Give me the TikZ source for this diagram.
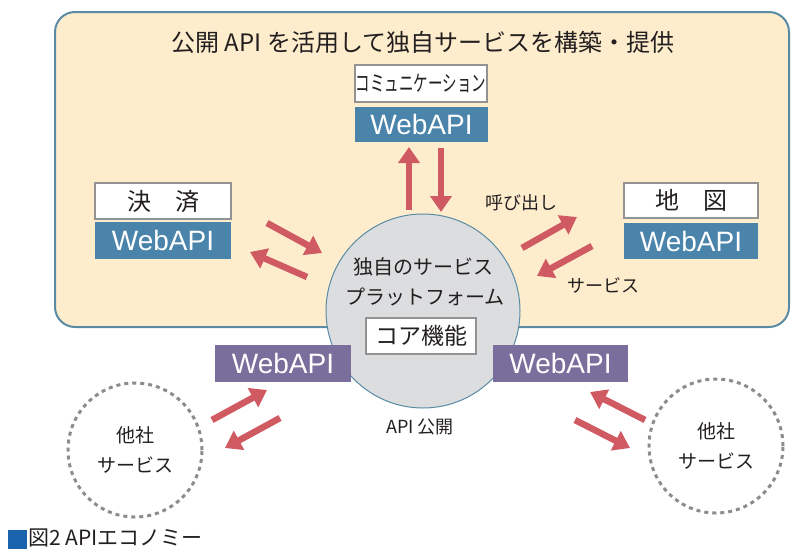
\documentclass[tikz,border=0pt]{standalone}
\usepackage{fontspec}
\setmainfont{Noto Sans CJK JP}
\newfontfamily\latfont{Liberation Sans}
\usepackage{graphicx}
\usetikzlibrary{arrows.meta}
\definecolor{beige}{HTML}{FEEDCD}
\definecolor{framec}{HTML}{5A8BA5}
\definecolor{apiblue}{HTML}{4A84AA}
\definecolor{apipurple}{HTML}{7A6E9C}
\definecolor{arrowred}{HTML}{CF5A62}
\definecolor{coregray}{HTML}{DCDDDF}
\definecolor{dotgray}{HTML}{8C8C8C}
\definecolor{textc}{HTML}{231F20}
\definecolor{capblue}{HTML}{1A64AE}
\tikzset{
  fat/.style={draw=arrowred, line width=6.5pt, -{Triangle[width=21pt,length=16pt]}},
  labelbox/.style={draw=gray!85, line width=1.3pt, fill=white, minimum width=134pt, minimum height=36pt, inner sep=0pt, text=textc, font=\fontsize{24}{26}\selectfont},
  apibox/.style={fill=apiblue, text=white, minimum width=134pt, minimum height=36pt, inner sep=0pt, font=\latfont\fontsize{28}{29}\selectfont},
  pbox/.style={apibox, fill=apipurple},
  othersvc/.style={circle, draw=dotgray, line width=3pt, dash pattern=on 4pt off 4pt, minimum size=134pt, inner sep=0pt, align=center, text=textc, font=\fontsize{19}{30}\selectfont},
  plain/.style={text=textc, inner sep=0pt},
}
\begin{document}
\begin{tikzpicture}[x=1pt,y=-1pt]
\useasboundingbox (0,0) rectangle (791,549);
% region
\draw[framec, fill=beige, line width=2pt, rounded corners=20pt] (55,12) rectangle (789,327);
\node[plain, font=\fontsize{24}{26}\selectfont] (title) at (423,42) {公開 API を活用して独自サービスを構築・提供};
% communication
\node[labelbox, minimum width=132pt, minimum height=37pt, font=\fontsize{22}{24}\selectfont] (comm) at (421,83.5) {\scalebox{0.66}[1]{コミュニケーション}};
\node[apibox, minimum width=133pt, minimum height=35pt] (commapi) at (421.5,124.5) {WebAPI};
% kessai
\node[labelbox, minimum width=136pt] (kessai) at (163,201) {決\hspace{1em}済};
\node[apibox, minimum width=136pt, minimum height=37pt] (kessaiapi) at (163,240.5) {WebAPI};
% map
\node[labelbox, minimum height=35pt] (map) at (691,200.5) {地\hspace{1em}図};
\node[apibox] (mapapi) at (691,241) {WebAPI};
% labels
\node[plain, font=\fontsize{18}{20}\selectfont] (call) at (521,203) {呼び出し};
\node[plain, font=\fontsize{18}{20}\selectfont] (svc) at (603,285) {サービス};
% arrows
\coordinate (a1s) at (409,210); \coordinate (a1e) at (409,147);
\coordinate (a2s) at (441,148); \coordinate (a2e) at (441,212);
\coordinate (a3s) at (267,223); \coordinate (a3e) at (322,253);
\coordinate (a4s) at (307,277); \coordinate (a4e) at (250,252);
\coordinate (a5s) at (522,248); \coordinate (a5e) at (577,217);
\coordinate (a6s) at (592,246); \coordinate (a6e) at (537,276);
\coordinate (a7s) at (212,420); \coordinate (a7e) at (267,390);
\coordinate (a8s) at (280,418); \coordinate (a8e) at (225,448);
\coordinate (a9s) at (645,420); \coordinate (a9e) at (590,392);
\coordinate (a10s) at (575,420); \coordinate (a10e) at (630,448);
\foreach \i in {1,...,10} {\draw[fat] (a\i s) -- (a\i e);}
% core circle
\node[circle, draw=framec, line width=1pt, fill=coregray, minimum size=194pt, inner sep=0pt] (core) at (423,311) {};
\node[plain, font=\fontsize{20}{22}\selectfont] (coreA) at (423,267) {独自のサービス};
\node[plain, font=\fontsize{20}{22}\selectfont] (coreB) at (425,297) {プラットフォーム};
\node[draw=gray!85, line width=1.3pt, fill=white, minimum width=110pt, minimum height=36pt, inner sep=0pt, text=textc, font=\fontsize{23}{25}\selectfont] (corefn) at (421,336) {コア機能};
% public API
\node[pbox, minimum width=136pt, minimum height=37pt] (papiL) at (283,363.5) {WebAPI};
\node[pbox, minimum width=135pt, minimum height=37pt] (papiR) at (560.5,363.5) {WebAPI};
\node[plain, font=\fontsize{18}{20}\selectfont] (pub) at (420,427) {API 公開};
% other services
\node[othersvc] (otherL) at (135,450) {他社\\サービス};
\node[othersvc] (otherR) at (716,446) {他社\\サービス};
% caption
\fill[capblue] (8,530) rectangle (27,549);
\node[plain, anchor=base west, font=\fontsize{21}{22}\selectfont] (cap) at (28,545.5) {図2 APIエコノミー};
\end{tikzpicture}
\end{document}
